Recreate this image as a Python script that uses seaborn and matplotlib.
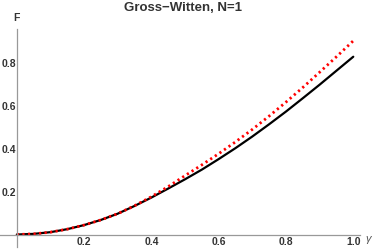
import matplotlib
matplotlib.use("Agg")
import matplotlib.pyplot as plt
import seaborn as sns
import pandas as pd
from matplotlib.ticker import MultipleLocator

# values
gamma = [0.0, 0.05, 0.1, 0.15, 0.2, 0.25, 0.3, 0.35, 0.4, 0.45, 0.5,
         0.55, 0.6, 0.65, 0.7, 0.75, 0.8, 0.85, 0.9, 0.95, 1.0]
f_exact = [0.0, 0.003, 0.011, 0.025, 0.044, 0.068, 0.097, 0.133, 0.172, 0.214, 0.257,
           0.302, 0.351, 0.402, 0.456, 0.513, 0.572, 0.634, 0.697, 0.762, 0.827]
f_approx = [0.0, 0.003, 0.011, 0.025, 0.044, 0.068, 0.097, 0.134, 0.176, 0.223, 0.274,
            0.324, 0.376, 0.431, 0.489, 0.551, 0.616, 0.684, 0.755, 0.827, 0.901]

df = pd.DataFrame({"gamma": gamma, "exact": f_exact, "approx": f_approx})

sns.set_style("white")
plt.rcParams["font.family"] = ["Liberation Sans", "DejaVu Sans"]

fig = plt.figure(figsize=(3.74, 2.49), dpi=100)
ax = fig.add_axes([0.0, 2 / 249, 360 / 374, 218 / 249])

sns.lineplot(data=df, x="gamma", y="exact", ax=ax, color="black", linewidth=1.6)
sns.lineplot(data=df, x="gamma", y="approx", ax=ax, color="red", linewidth=2.0,
             linestyle=(0, (0.8, 1.2)))

ax.set_xlim(-0.05, 1.02)
ax.set_ylim(-0.058, 0.956)

for side in ["top", "right"]:
    ax.spines[side].set_visible(False)
ax.spines["left"].set_position(("data", 0))
ax.spines["bottom"].set_position(("data", 0))
for side in ["left", "bottom"]:
    ax.spines[side].set_color("#999999")
    ax.spines[side].set_linewidth(0.9)

ax.xaxis.set_major_locator(MultipleLocator(0.2))
ax.xaxis.set_minor_locator(MultipleLocator(0.05))
ax.yaxis.set_major_locator(MultipleLocator(0.2))
ax.yaxis.set_minor_locator(MultipleLocator(0.05))
ax.tick_params(which="major", direction="in", length=4, width=0.8, color="#999999",
               labelsize=7.5, labelcolor="#333333", pad=1.5)
ax.tick_params(axis="y", which="major", pad=0.5)
ax.tick_params(which="minor", direction="in", length=2, width=0.6, color="#999999")
ax.set_xticks([0.2, 0.4, 0.6, 0.8, 1.0])
ax.set_xticklabels(["0.2", "0.4", "0.6", "0.8", "1.0"], fontweight="bold")
ax.set_yticks([0.2, 0.4, 0.6, 0.8])
ax.set_yticklabels(["0.2", "0.4", "0.6", "0.8"], fontweight="bold")

ax.set_xlabel("")
ax.set_ylabel("")
fig.text(16 / 374, 1 - 18 / 249, "F", ha="center", va="center", fontsize=7.5,
         fontweight="bold", color="#333333")
fig.text(368 / 374, 1 - 239 / 249, "γ", ha="center", va="center", fontsize=8,
         style="italic", color="#555555")
fig.text(183 / 374, 1 - 8 / 249, "Gross\u2212Witten, N=1", ha="center", va="center",
         fontsize=9.5, fontweight="bold", color="#333333")

fig.savefig("out.png", dpi=100)
